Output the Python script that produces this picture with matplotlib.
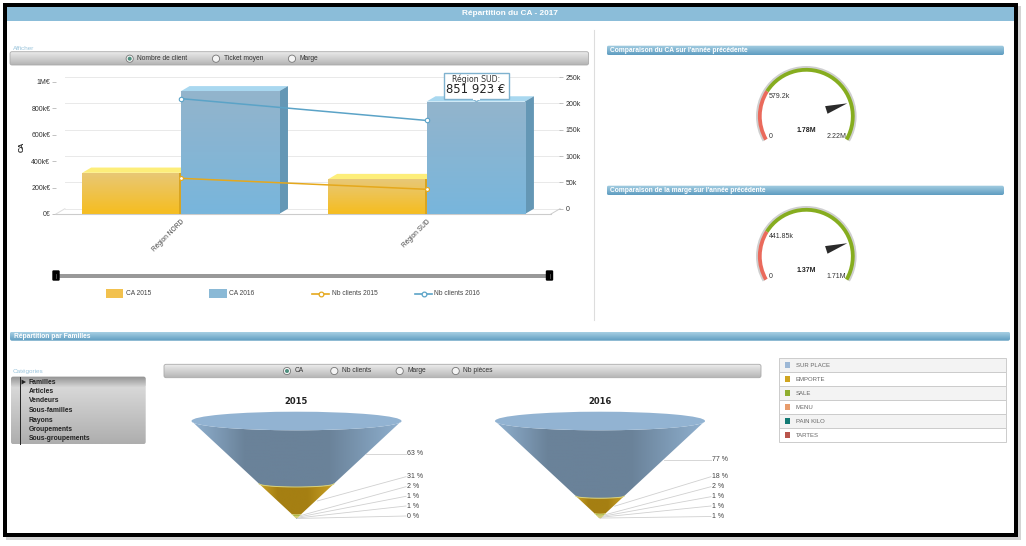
"""Dashboard "Répartition du CA - 2017" redrawn with matplotlib."""

import numpy as np
import matplotlib
matplotlib.use('Agg')
import matplotlib.pyplot as plt
from matplotlib.colors import to_rgb
from matplotlib.patches import Circle, Ellipse, FancyBboxPatch, Polygon, Rectangle, Wedge

plt.rcParams['font.family'] = ['Liberation Sans', 'DejaVu Sans']

W, H = 1026, 546

regions = ['Région NORD', 'Région SUD']
ca_2015 = [312000, 264000]
ca_2016 = [929000, 851923]
clients_2015 = [57700, 36800]
clients_2016 = [209000, 167500]
ca_ticks = [0, 200000, 400000, 600000, 800000, 1000000]
ca_tick_labels = ['0€', '200k€', '400k€', '600k€', '800k€', '1M€']
clients_ticks = [0, 50000, 100000, 150000, 200000, 250000]
clients_tick_labels = ['0', '50k', '100k', '150k', '200k', '250k']

gauge_titles = ["Comparaison du CA sur l'année précédente",
                "Comparaison de la marge sur l'année précédente"]
gauge_max = [2220000, 1710000]
gauge_value = [1780000, 1370000]
gauge_red = [579200, 441850]
gauge_max_labels = ['2.22M', '1.71M']
gauge_value_labels = ['1.78M', '1.37M']
gauge_red_labels = ['579.2k', '441.85k']

familles = ['SUR PLACE', 'EMPORTE', 'SALE', 'MENU', 'PAIN KILO', 'TARTES']
famille_colors = ['#9db8d6', '#d0a520', '#8fae2f', '#e89c6c', '#127a74', '#b9544b']
parts_2015 = [63, 31, 2, 1, 1, 0]
parts_2016 = [77, 18, 2, 1, 1, 1]
categories = ['Familles', 'Articles', 'Vendeurs', 'Sous-familles', 'Rayons',
              'Groupements', 'Sous-groupements']

fig = plt.figure(figsize=(W / 100, H / 100), dpi=100, facecolor='white')


def px_axes(x0, y0, x1, y1, zorder):
    ax = fig.add_axes([x0 / W, 1 - y1 / H, (x1 - x0) / W, (y1 - y0) / H], zorder=zorder)
    ax.patch.set_alpha(0)
    return ax


def vgradient(top, bottom):
    return np.linspace(to_rgb(top), to_rgb(bottom), 64).reshape(64, 1, 3)


def gradient_box(ax, x0, y0, x1, y1, top, bottom, rad=2.0, edge='none', z=2):
    box = FancyBboxPatch((x0 + rad, y0 + rad), x1 - x0 - 2 * rad, y1 - y0 - 2 * rad,
                         boxstyle='round,pad=%f,rounding_size=%f' % (rad, rad),
                         fc='none', ec=edge, lw=0.6, zorder=z + 0.1)
    ax.add_patch(box)
    im = ax.imshow(vgradient(top, bottom), extent=(x0, x1, y1, y0), origin='upper',
                   aspect='auto', interpolation='bilinear', zorder=z)
    im.set_clip_path(box)


def radio(ax, x, y, label, selected=False, size=4.8):
    ax.add_patch(Circle((x, y), 3.6, fc='#f4f4f4', ec='#777777', lw=0.6, zorder=4))
    if selected:
        ax.add_patch(Circle((x, y), 2.0, fc='#4f8f7f', ec='none', zorder=5))
    ax.text(x + 7.5, y, label, fontsize=size, color='#333333', va='center', zorder=5)


def section_bar(ax, x0, y0, x1, y1, label, tx):
    gradient_box(ax, x0, y0, x1, y1, '#a6cfe3', '#5e9cc0', rad=2)
    ax.text(tx, (y0 + y1) / 2, label, fontsize=4.75, color='white', fontweight='bold',
            va='center', zorder=5)


# page, frame and static widgets
page = px_axes(0, 0, W, H, 0)
page.axis('off')
page.add_patch(Rectangle((6, 6), 1015, 534, fc='#d4d4d4', ec='none', zorder=0))
page.add_patch(Rectangle((3, 3), 1015, 534, fc='black', ec='none', zorder=0.5))
page.add_patch(Rectangle((7, 7), 1007, 526, fc='white', ec='none', zorder=1))
page.add_patch(Rectangle((7, 7), 1007, 13.5, fc='#8bbdd9', ec='none', zorder=2))
page.text(510, 13.8, 'Répartition du CA - 2017', fontsize=5.95, color='white',
          fontweight='bold', ha='center', va='center', zorder=3)
page.plot([594, 594], [30, 320], color='#dddddd', lw=0.8, zorder=2)

page.text(12.5, 48, 'Afficher', fontsize=4.6, color='#9cc5dc', va='center', zorder=3)
gradient_box(page, 10, 51.7, 588.6, 65, '#ededed', '#b4b4b4', edge='#aaaaaa')
radio(page, 129.7, 58.7, 'Nombre de client', True)
radio(page, 216, 58.7, 'Ticket moyen')
radio(page, 292, 58.7, 'Marge')

# slider below the chart
page.add_patch(Rectangle((56, 273.7), 494, 4, fc='#999999', ec='none', zorder=2))
for hx in (56, 549.5):
    page.add_patch(FancyBboxPatch((hx - 2.5, 271.5), 5, 8, boxstyle='round,pad=1.2',
                                  fc='black', ec='none', zorder=3))
    page.plot([hx, hx], [273.5, 277.5], color='#555555', lw=0.6, zorder=4)

# chart legend
page.add_patch(Rectangle((106, 289), 17, 8.7, fc='#f2c14e', ec='none', zorder=2))
page.text(126, 293.7, 'CA 2015', fontsize=4.8, color='#444444', va='center', zorder=3)
page.add_patch(Rectangle((209, 289), 17.5, 8.7, fc='#8ab9d6', ec='none', zorder=2))
page.text(229, 293.7, 'CA 2016', fontsize=4.8, color='#444444', va='center', zorder=3)
page.plot([312, 329], [293.5, 293.5], color='#e5a81c', lw=1.2, zorder=2)
page.plot([415, 432], [293.5, 293.5], color='#5ba3c7', lw=1.2, zorder=2)
page.plot([320.5], [293.5], 'o', color='#e5a81c', ms=3.4, mfc='white', mew=0.9, zorder=3)
page.plot([423.5], [293.5], 'o', color='#5ba3c7', ms=3.4, mfc='white', mew=0.9, zorder=3)
page.text(332, 293.7, 'Nb clients 2015', fontsize=4.8, color='#444444', va='center', zorder=3)
page.text(434, 293.7, 'Nb clients 2016', fontsize=4.8, color='#444444', va='center', zorder=3)

# bar chart with fake 3D depth
X_LEFT, X_RIGHT = -0.507, 1.506
ax_ca = px_axes(55.9, 82, 551, 214, 1)
ax_ca.set_xlim(X_LEFT, X_RIGHT)
ax_ca.set_ylim(0, 1000000)
depth_x = 9 / 246.0
depth_y = 40000
x_pos = np.arange(len(regions))
bar_w = 0.4

for t in ca_ticks:
    ax_ca.plot([X_LEFT + depth_x, X_RIGHT + depth_x], [t + depth_y, t + depth_y],
               color='#e9e9e9', lw=0.7, clip_on=False, zorder=0)
ax_ca.plot([X_LEFT, X_LEFT + depth_x], [0, depth_y], color='#dddddd', lw=0.7, clip_on=False)
ax_ca.plot([X_RIGHT, X_RIGHT + depth_x], [0, depth_y], color='#cccccc', lw=0.7, clip_on=False)


def bars_3d(offset, values, front_top, front_bottom, top_col, side_col, z):
    bars = ax_ca.bar(x_pos + offset, values, width=bar_w, align='edge', color='none', zorder=z + 1)
    for bar, v in zip(bars, values):
        x0, x1 = bar.get_x(), bar.get_x() + bar.get_width()
        ax_ca.add_patch(Polygon([(x0, v), (x1, v), (x1 + depth_x, v + depth_y), (x0 + depth_x, v + depth_y)],
                                fc=top_col, ec='none', clip_on=False, zorder=z))
        ax_ca.add_patch(Polygon([(x1, 0), (x1, v), (x1 + depth_x, v + depth_y), (x1 + depth_x, depth_y)],
                                fc=side_col, ec='none', clip_on=False, zorder=z))
        im = ax_ca.imshow(vgradient(front_top, front_bottom), extent=(x0, x1, 0, v), origin='upper',
                          aspect='auto', interpolation='bilinear', zorder=z + 0.5)
        im.set_clip_path(bar)


bars_3d(-bar_w, ca_2015, '#e8c877', '#f6bd1f', '#fdee7a', '#d9a520', 2)
ax_ca.vlines(x_pos - 0.004, 0, ca_2015, color='#d9a520', lw=1.4, zorder=3.5)
bars_3d(0, ca_2016, '#93b4cc', '#78b6dc', '#a9d8f0', '#6497b5', 5)

ax_ca.set_xlim(X_LEFT, X_RIGHT)
ax_ca.set_ylim(0, 1000000)
ax_ca.set_xticks(x_pos)
ax_ca.set_xticklabels(regions, rotation=45, ha='right', va='top', rotation_mode='anchor',
                      fontsize=4.8, color='#444444')
ax_ca.set_yticks(ca_ticks)
ax_ca.set_yticklabels(ca_tick_labels, fontsize=5, color='#333333')
ax_ca.tick_params(axis='y', length=3, width=0.5, color='#aaaaaa', pad=1)
ax_ca.tick_params(axis='x', length=0, pad=3)
for name in ('top', 'right', 'left'):
    ax_ca.spines[name].set_visible(False)
ax_ca.spines['bottom'].set_color('#cccccc')
ax_ca.spines['bottom'].set_linewidth(0.8)
page.text(22.6, 147, 'CA', fontsize=5.2, fontweight='bold', rotation=90, color='#222222',
          ha='center', va='center', zorder=3)

# client counts sit on the back wall, a few pixels higher
ax_nb = px_axes(55.9, 77, 563, 208.7, 2)
ax_nb.set_xlim(X_LEFT, (563 - 180.6) / 246.0)
ax_nb.set_ylim(0, 250000)
ax_nb.plot(x_pos, clients_2015, color='#e5a81c', lw=1.1, marker='o', ms=2.8, mfc='white', mew=0.8, zorder=3)
ax_nb.plot(x_pos, clients_2016, color='#5ba3c7', lw=1.1, marker='o', ms=3.2, mfc='white', mew=0.8, zorder=3)
ax_nb.yaxis.tick_right()
ax_nb.set_yticks(clients_ticks)
ax_nb.set_yticklabels(clients_tick_labels, fontsize=5, color='#333333')
ax_nb.tick_params(axis='y', length=3, width=0.5, color='#aaaaaa', direction='in', pad=2)
ax_nb.set_xticks([])
for spine in ax_nb.spines.values():
    spine.set_visible(False)

# tooltip above the Région SUD bar
over = px_axes(0, 0, W, H, 5)
over.axis('off')
over.add_patch(Polygon([(472, 98), (481, 98), (476.5, 102)], fc='white', ec='#7fb2cf', lw=0.8, zorder=2))
over.add_patch(Rectangle((444, 72.7), 64.6, 26.3, fc='white', ec='#7fb2cf', lw=1.0, zorder=3))
over.add_patch(Rectangle((472.6, 97.5), 7.8, 2.4, fc='white', ec='none', zorder=4))
over.text(476, 79.3, 'Région SUD:', fontsize=5.6, color='#333333', ha='center', va='center',
          family=['DejaVu Sans'], zorder=5)
over.text(476, 89.7, '851 923 €', fontsize=8.4, color='#222222', ha='center', va='center',
          family=['DejaVu Sans'], zorder=5)
over.set_xlim(0, W)
over.set_ylim(H, 0)


# gauges
def gauge(cy, i):
    cx = 806.3
    section_bar(page, 606.7, cy - 70.6, 1004, cy - 61.3, gauge_titles[i], 610)
    ax = px_axes(cx - 55, cy - 55, cx + 55, cy + 30, 2)
    ax.set_xlim(-55, 55)
    ax.set_ylim(-30, 55)
    ax.axis('off')
    to_angle = lambda v: 210 - 240 * v / gauge_max[i]
    ax.add_patch(Wedge((0, 0), 50.3, -30, 210, width=3.4, fc='#cfcfcf', ec='none'))
    split = to_angle(gauge_red[i])
    ax.add_patch(Wedge((0, 0), 48.4, split, 210, width=3.8, fc='#ea6a5c', ec='none'))
    ax.add_patch(Wedge((0, 0), 48.4, -30, split, width=3.8, fc='#86ad1f', ec='none'))
    a = np.radians(to_angle(gauge_value[i]))
    u, n = np.array([np.cos(a), np.sin(a)]), np.array([-np.sin(a), np.cos(a)])
    ax.add_patch(Polygon([43 * u, 21 * u + 4 * n, 21 * u - 4 * n], fc='#2a2a2a', ec='none'))
    page.text(769, cy - 19.6, gauge_red_labels[i], fontsize=5, color='#333333', va='center', zorder=3)
    page.text(769, cy + 20.7, '0', fontsize=5, color='#333333', va='center', zorder=3)
    page.text(826.7, cy + 20.7, gauge_max_labels[i], fontsize=5, color='#333333', va='center', zorder=3)
    page.text(806.7, cy + 14.7, gauge_value_labels[i], fontsize=5, color='#222222', fontweight='bold',
              ha='center', va='center', zorder=3)


gauge(116.3, 0)
gauge(256.3, 1)

# lower section
section_bar(page, 10, 331.7, 1010, 340.7, 'Répartition par Familles', 14)
page.text(12.5, 372, 'Catégories', fontsize=4.6, color='#9cc5dc', va='center', zorder=3)
gradient_box(page, 11, 376.7, 145.7, 444.3, '#e0e0e0', '#aeaeae', rad=2.5)
gradient_box(page, 11, 376.7, 145.7, 387, '#8f8f8f', '#d4d4d4', rad=2, z=2.5)
page.plot([20.3, 20.3], [377, 444], color='#222222', lw=0.7, zorder=4)
page.add_patch(Polygon([(21.5, 379.5), (21.5, 384.5), (26, 382)], fc='#222222', ec='none', zorder=4))
for k, name in enumerate(categories):
    page.text(28.7, 382 + 9.5 * k, name, fontsize=4.9, color='#222222', fontweight='bold',
              va='center', zorder=4)

gradient_box(page, 164, 364.3, 761, 377.7, '#ededed', '#b4b4b4', edge='#aaaaaa')
radio(page, 287, 371, 'CA', True)
radio(page, 334.3, 371, 'Nb clients')
radio(page, 399.7, 371, 'Marge')
radio(page, 455.7, 371, 'Nb pièces')

# family legend table
for k, name in enumerate(familles):
    y0 = 358.3 + 14 * k
    page.add_patch(Rectangle((779, y0), 227, 14, fc='#f3f3f3' if k % 2 == 0 else 'white',
                             ec='#cccccc', lw=0.7, zorder=2))
    page.add_patch(Rectangle((784.6, y0 + 4), 5.8, 6, fc=famille_colors[k], ec='none', zorder=3))
    page.text(796, y0 + 7, name, fontsize=4.3, color='#666666', va='center', zorder=3)


# funnels
def funnel(cx, title, parts, label_ys, label_x):
    apex, lip = 518.5, 430.3
    top_y = 421.0
    box_top = top_y - 12
    y_max = (apex - box_top) / (apex - lip) * 100
    ax = px_axes(cx - 106, box_top, cx + 106, apex + 1, 2)
    y_min = -1 / (apex - lip) * 100
    ax.set_xlim(-106, 106)
    ax.set_ylim(y_min, y_max)
    ax.axis('off')
    rim = (lip - top_y) / (apex - lip) * 100

    def front_arc(f, reverse=False):
        # lower half of the ring whose front point sits at level f
        c = f * (100 + rim) / 100.0
        hw, b = 1.05 * f, rim * c / (100 + rim)
        t = np.linspace(np.pi, 2 * np.pi, 40)
        pts = np.column_stack([hw * np.cos(t), c + b * np.sin(t)])
        return pts[::-1] if reverse else pts

    total = float(sum(parts))
    upper = 100.0
    anchors = []
    for k, part in enumerate(parts):
        lower = upper - part * 100 / total
        poly = Polygon(np.vstack([front_arc(upper), front_arc(lower, True)]), fc='none', ec='none',
                       zorder=2 + k)
        ax.add_patch(poly)
        if k < 2:
            light = ['#8fb0cf', '#c9a227'][k]
            dark = ['#6a8299', '#a57f12'][k]
            s = np.linspace(-1, 1, 128)
            mix = np.interp(s, [-1, -0.5, 0.3, 1], [0, 1, 1, 0])[None, :, None]
            grad = np.array(to_rgb(light)) * (1 - mix) + np.array(to_rgb(dark)) * mix
            hw = 1.05 * upper
            im = ax.imshow(grad, extent=(-hw, hw, 0, 112), aspect='auto', origin='upper',
                           interpolation='bilinear', zorder=2 + k)
            im.set_clip_path(poly)
        else:
            poly.set_facecolor(famille_colors[k])
        if k > 0 and part > 0:
            arc = front_arc(upper)
            ax.plot(arc[:, 0], arc[:, 1], color='#d8d27a', lw=0.7, zorder=8)
        anchors.append((upper + lower) / 2)
        upper = lower
    ax.set_xlim(-106, 106)
    ax.set_ylim(y_min, y_max)
    ax.add_patch(Ellipse((0, 100 + rim), 210, 2 * rim, fc='#92b3d2', ec='none', zorder=9))

    page.text(cx, 401.7, title, fontsize=6, fontweight='bold', color='#222222', ha='center',
              va='center', family=['DejaVu Sans'], zorder=3)
    for k, part in enumerate(parts):
        ly = label_ys[k]
        if k == 0:
            x_a, y_a = cx + 105 * (apex - ly) / (apex - top_y), ly
        else:
            x_a = cx + 1.05 * anchors[k]
            y_a = apex - anchors[k] * (apex - lip) / 100
        page.plot([x_a, label_x - 1], [y_a, ly], color='#d0d0d0', lw=0.6, zorder=1.5)
        page.text(label_x, ly, '%d %%' % part, fontsize=5, color='#444444', va='center', zorder=3)


funnel(296.5, '2015', parts_2015, [453.7, 476.7, 486.7, 496.3, 506, 516], 407)
funnel(600, '2016', parts_2016, [459.5, 476.7, 486.7, 496.7, 506, 516.5], 712)

page.set_xlim(0, W)
page.set_ylim(H, 0)
fig.savefig('out.png', dpi=100)
